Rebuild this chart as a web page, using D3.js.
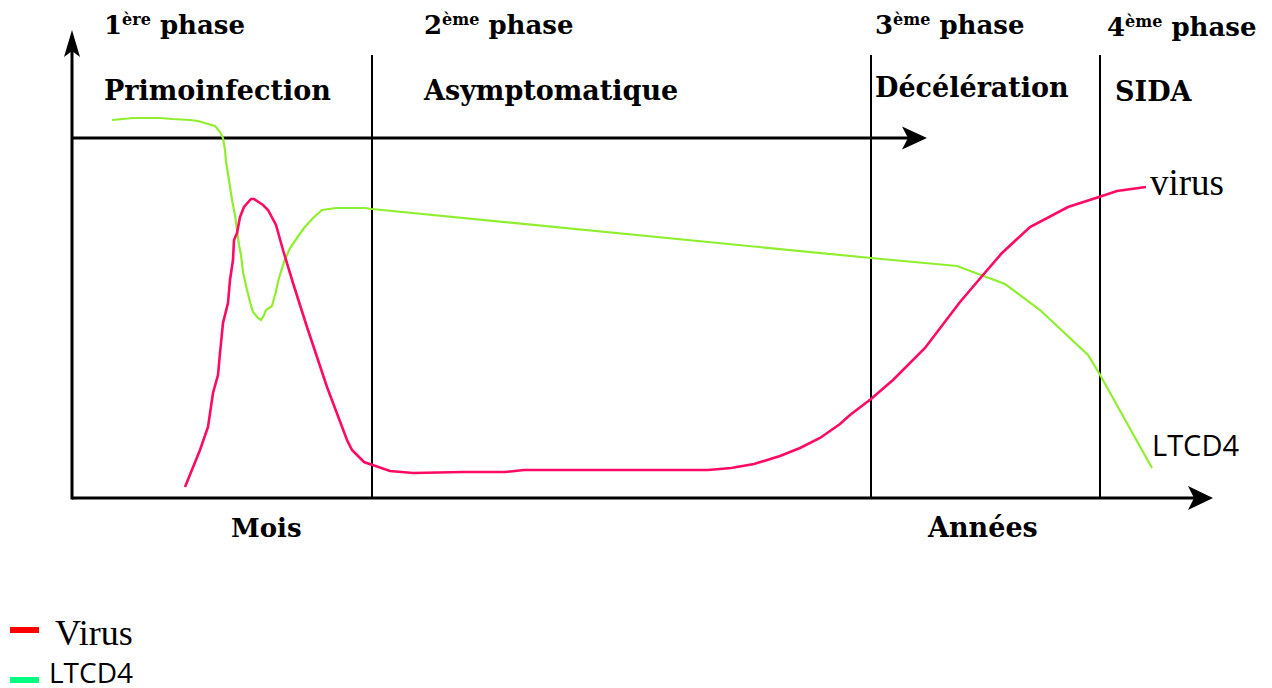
<html>
  <head>
    <title>Phases VIH</title>
  </head>
<script src='https://d3js.org/d3.v7.min.js'></script>
<style>
body { margin: 0; background: white; }
.titre { font-family: "DejaVu Serif", serif; font-weight: bold; font-size: 26px; fill: black; }
</style>
<body onload='init()'>
<svg width=1272 height=688></svg>
<script>
// phases (start of each phase, time units) and their labels
var phaseStart = [30, 79.9, 102.8];
var phaseNum = ["1", "2", "3", "4"];
var phaseSup = ["ère", "ème", "ème", "ème"];
var phaseName = ["Primoinfection", "Asymptomatique", "Décélération", "SIDA"];

// LTCD4 curve (time, level)
var ltTime = [4.0, 6.1, 8.8, 10.0, 11.8, 12.6, 13.6, 14.3, 14.8, 15.1, 15.3, 15.4, 15.7, 16.0, 16.3, 16.5, 16.7, 16.9, 17.1, 17.5, 17.8, 18.1, 18.6, 18.9, 19.2, 19.4, 20.0, 20.3, 20.7, 21.2, 21.8, 22.5, 23.2, 24.1, 25.0, 26.4, 29.3, 30.0, 79.9, 88.5, 93.3, 96.8, 101.6, 102.7, 106.1, 108.0];
var ltLevel = [94.5, 95, 95, 94.75, 94.5, 94.25, 93.5, 93, 91.5, 90, 87, 84, 79.5, 74.5, 70.75, 67, 63.25, 60.75, 56.5, 52, 49, 46.5, 45, 44.5, 45.75, 47, 48, 50.75, 55, 59, 62.5, 65, 67.5, 70, 72, 72.5, 72.5, 72.25, 60, 58, 53.5, 47, 35.75, 31.25, 16, 7.5];

// virus curve (time, level)
var virTime = [11.3, 12.8, 13.6, 14.1, 14.6, 14.8, 15.1, 15.6, 15.8, 16.1, 16.2, 16.5, 16.8, 17.2, 17.9, 18.2, 19.1, 19.6, 20.4, 21.1, 22.1, 23.5, 25.5, 27.5, 28.0, 29.2, 31.8, 34.1, 39.1, 43.3, 45.2, 63.6, 65.9, 68.2, 70.8, 72.8, 74.8, 76.8, 77.8, 79.9, 82.1, 85.3, 88.8, 91.1, 93.0, 95.8, 99.6, 102.7, 104.5, 107.4];
var virLevel = [2.75, 12, 17.75, 26.25, 30.75, 36.25, 43.75, 48.75, 54.5, 59.5, 64.5, 66.25, 70.25, 72.75, 74.75, 74.75, 73.25, 72, 68.25, 62, 53.75, 42.75, 27.75, 14.5, 12, 9, 6.75, 6.25, 6.5, 6.5, 7, 7, 7.5, 8.5, 10.5, 12.5, 15, 18.5, 20.75, 24.75, 29.5, 37.5, 49, 55.75, 61.25, 67.75, 72.75, 75.25, 76.75, 77.75];

function init() {
var svg = d3.select("svg");
var x = d3.scaleLinear().domain([0, 114]).range([72, 1212]);
var y = d3.scaleLinear().domain([0, 117]).range([498, 30]);

var ltData = ltTime.map(function (t, i) { return [t, ltLevel[i]]; });
var virData = virTime.map(function (t, i) { return [t, virLevel[i]]; });

// arrow head, tip at (tx,ty), pointing along angle (degrees)
function arrow(tx, ty, angle, len, half) {
  svg.append("path")
    .attr("d", "M0,0 L" + (-len) + "," + (-half) + " L" + (-len + 6) + ",0 L" + (-len) + "," + half + " Z")
    .attr("transform", "translate(" + tx + "," + ty + ") rotate(" + angle + ")")
    .attr("fill", "black");
}

// phase separators
svg.selectAll(".sep").data(phaseStart).enter().append("line")
  .attr("class", "sep")
  .attr("x1", function (d) { return x(d); }).attr("x2", function (d) { return x(d); })
  .attr("y1", y(110.75)).attr("y2", y(0))
  .style("stroke", "black").style("stroke-width", 2);

// axes
svg.append("line").attr("x1", x(0)).attr("x2", x(0)).attr("y1", y(0) + 1.5).attr("y2", y(112))
  .style("stroke", "black").style("stroke-width", 3);
arrow(x(0), y(117), -90, 27, 8);
svg.append("line").attr("x1", x(0)).attr("x2", x(113)).attr("y1", y(0)).attr("y2", y(0))
  .style("stroke", "black").style("stroke-width", 3);
arrow(x(114.1), y(0), 0, 25, 12);
svg.append("line").attr("x1", x(0)).attr("x2", x(84.5)).attr("y1", y(90)).attr("y2", y(90))
  .style("stroke", "black").style("stroke-width", 3);
arrow(x(85.5), y(90), 0, 25, 11.5);

var line = d3.line().x(function (d) { return x(d[0]); }).y(function (d) { return y(d[1]); });

svg.append("path").datum(ltData).attr("d", line)
  .attr("fill", "none").attr("stroke", "#8fef2f").attr("stroke-width", 2.2);
svg.append("path").datum(virData).attr("d", line)
  .attr("fill", "none").attr("stroke", "#ff0a64").attr("stroke-width", 2.6);

// phase titles
var titleX = [104, 424, 875, 1107];
var nameX = [104, 424, 875, 1115];
var nameY = [100, 100, 97, 101];
phaseNum.forEach(function (n, i) {
  var t = svg.append("text").attr("class", "titre").attr("x", titleX[i]).attr("y", i == 3 ? 36 : 34);
  t.append("tspan").text(n);
  t.append("tspan").attr("dy", -9).style("font-size", "16px").text(phaseSup[i]);
  t.append("tspan").attr("dy", 9).text(" phase");
  svg.append("text").attr("class", "titre").style("font-size", "27px")
    .attr("x", nameX[i]).attr("y", nameY[i]).text(phaseName[i]);
});

svg.append("text").attr("class", "titre").attr("x", 231).attr("y", 537).text("Mois");
svg.append("text").attr("class", "titre").style("font-size", "27px").attr("x", 928).attr("y", 537).text("Années");

// curve labels
svg.append("text").attr("x", 1150).attr("y", 195)
  .style("font-family", "Liberation Serif").style("font-size", "37px").text("virus");
svg.append("text").attr("x", 1152).attr("y", 456)
  .style("font-family", "Open Sans").style("font-size", "29px").text("LTCD4");

// legend
svg.append("rect").attr("x", 10).attr("y", 627).attr("width", 29).attr("height", 6).attr("fill", "#ff0000");
svg.append("text").attr("x", 55).attr("y", 645)
  .style("font-family", "Liberation Serif").style("font-size", "36px").text("Virus");
svg.append("rect").attr("x", 10).attr("y", 677).attr("width", 29).attr("height", 6).attr("fill", "#00ff80");
svg.append("text").attr("x", 49).attr("y", 683)
  .style("font-family", "Open Sans").style("font-size", "28px").text("LTCD4");
}
</script>
</body>
</html>
